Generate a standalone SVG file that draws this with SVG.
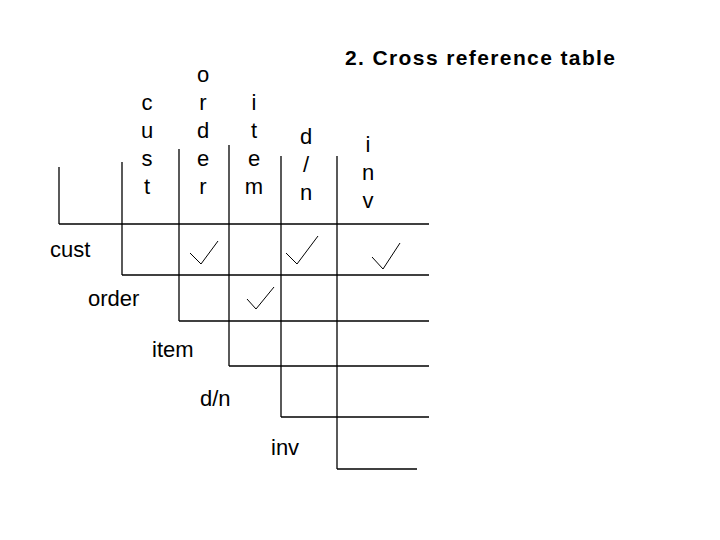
<svg xmlns="http://www.w3.org/2000/svg" width="720" height="540" viewBox="0 0 720 540">
<style>
text{font-family:"Liberation Sans",Arial,sans-serif;font-size:22px;fill:#000}
.c{text-anchor:middle}
line,polyline{stroke:#000;stroke-width:1.3;fill:none}
.ck{stroke-width:1}
.t{font-size:21px;font-weight:bold}
</style>
<rect width="720" height="540" fill="#fff"/>
<text class="t" x="345" y="65" textLength="270" lengthAdjust="spacing">2. Cross reference table</text>
<g id="col-headers" class="c">
<text class="c" x="147" y="110">c</text><text class="c" x="147" y="138">u</text><text class="c" x="147" y="166">s</text><text class="c" x="147" y="194">t</text>
<text class="c" x="203" y="82">o</text><text class="c" x="203" y="110">r</text><text class="c" x="203" y="138">d</text><text class="c" x="203" y="166">e</text><text class="c" x="203" y="194">r</text>
<text class="c" x="254" y="110">i</text><text class="c" x="254" y="138">t</text><text class="c" x="254" y="166">e</text><text class="c" x="254" y="194">m</text>
<text class="c" x="306" y="144">d</text><text class="c" x="306" y="172">/</text><text class="c" x="306" y="200">n</text>
<text class="c" x="368" y="152">i</text><text class="c" x="368" y="180">n</text><text class="c" x="368" y="208">v</text>
</g>
<g id="row-labels">
<text x="50" y="257">cust</text>
<text x="88" y="306">order</text>
<text x="152" y="357">item</text>
<text x="200" y="406">d/n</text>
<text x="271" y="455">inv</text>
</g>
<g id="grid">
<line x1="59" y1="167" x2="59" y2="224"/>
<line x1="122" y1="162" x2="122" y2="275"/>
<line x1="179" y1="149" x2="179" y2="321"/>
<line x1="229" y1="145" x2="229" y2="366"/>
<line x1="281" y1="156" x2="281" y2="417"/>
<line x1="337" y1="156" x2="337" y2="469"/>
<line x1="59" y1="224" x2="429" y2="224"/>
<line x1="122" y1="275" x2="429" y2="275"/>
<line x1="179" y1="321" x2="429" y2="321"/>
<line x1="229" y1="366" x2="429" y2="366"/>
<line x1="281" y1="417" x2="429" y2="417"/>
<line x1="337" y1="469" x2="417" y2="469"/>
</g>
<g id="checks">
<polyline class="ck" points="190,253 201,264 218,241"/>
<polyline class="ck" points="286,253 297,264 318,236"/>
<polyline class="ck" points="372,257 383,269 400,243"/>
<polyline class="ck" points="247,299 256,309 274,287"/>
</g>
</svg>
